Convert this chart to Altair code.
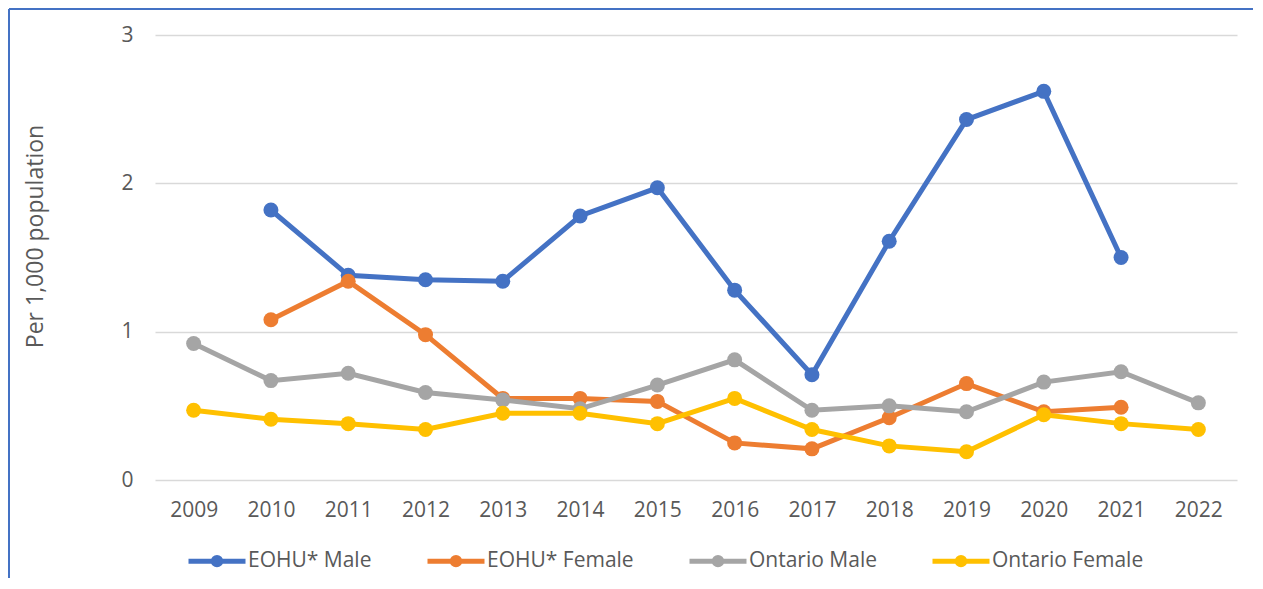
import altair as alt
import pandas as pd

years = [str(y) for y in range(2009, 2023)]
series_names = ["EOHU* Male", "EOHU* Female", "Ontario Male", "Ontario Female"]
colors = ["#4472C4", "#ED7D31", "#A5A5A5", "#FFC000"]

eohu_male = [None, 1.82, 1.38, 1.35, 1.34, 1.78, 1.97, 1.28, 0.71, 1.61, 2.43, 2.62, 1.50, None]
eohu_female = [None, 1.08, 1.34, 0.98, 0.55, 0.55, 0.53, 0.25, 0.21, 0.42, 0.65, 0.46, 0.49, None]
ontario_male = [0.92, 0.67, 0.72, 0.59, 0.54, 0.48, 0.64, 0.81, 0.47, 0.50, 0.46, 0.66, 0.73, 0.52]
ontario_female = [0.47, 0.41, 0.38, 0.34, 0.45, 0.45, 0.38, 0.55, 0.34, 0.23, 0.19, 0.44, 0.38, 0.34]

values = [eohu_male, eohu_female, ontario_male, ontario_female]
rows = []
for name, vals in zip(series_names, values):
    for yr, v in zip(years, vals):
        if v is not None:
            rows.append({"Year": yr, "Series": name, "Value": v})
df = pd.DataFrame(rows)

FONT = "Open Sans"
TXT = "#595959"

# line with a round blob in the middle (stroked path)
legend_path = ("M-1,0L1,0 "
               "M0.13,0A0.13,0.13,0,1,1,-0.13,0A0.13,0.13,0,1,1,0.13,0")

x_enc = alt.X("Year:O", scale=alt.Scale(domain=years, type="point", padding=0.5),
              axis=alt.Axis(title=None, labelAngle=0, labelFontSize=21, labelColor=TXT,
                            labelFont=FONT, ticks=False, domain=False, labelPadding=19))
y_enc = alt.Y("Value:Q", scale=alt.Scale(domain=[0, 3], nice=False),
              axis=alt.Axis(title="Per 1,000 population", values=[0, 1, 2, 3],
                            labelFontSize=21, labelColor=TXT, labelFont=FONT,
                            ticks=False, domain=False, labelPadding=22,
                            gridColor="#D9D9D9", gridWidth=1.5,
                            titleFontSize=23, titleFont=FONT, titleColor=TXT,
                            titleFontWeight="normal", titleX=-113, titleY=201,
                            titleAngle=270, titleAlign="center",
                            titleBaseline="alphabetic"))

legend = alt.Legend(title=None, orient="none", direction="horizontal",
                    legendX=31, legendY=495,
                    symbolType=legend_path, symbolSize=3249,
                    symbolStrokeWidth=5, symbolOpacity=1,
                    labelFontSize=21, labelFont=FONT, labelColor=TXT,
                    labelOffset=0, columnPadding=45)

layers = []
for i, name in enumerate(series_names):
    base = alt.Chart(df).transform_filter(alt.datum.Series == name)
    line = base.mark_line(strokeWidth=5).encode(
        x=x_enc, y=y_enc,
        stroke=alt.Stroke("Series:N", scale=alt.Scale(domain=series_names, range=colors),
                          legend=legend),
    )
    pts = base.mark_point(filled=True, size=225, opacity=1, shape="circle").encode(
        x=x_enc, y=y_enc,
        fill=alt.Fill("Series:N", scale=alt.Scale(domain=series_names, range=colors),
                      legend=None),
    )
    layers += [line, pts]

frame_left = alt.Chart(df).mark_rule(color="#4472C4", strokeWidth=2).encode(
    x=alt.value(-146), y=alt.value(-26), y2=alt.value(600))
frame_top = alt.Chart(df).mark_rule(color="#4472C4", strokeWidth=2).encode(
    x=alt.value(-146), x2=alt.value(1102), y=alt.value(-26))

chart = alt.layer(frame_left, frame_top, *layers).properties(
    width=1082, height=445,
    autosize=alt.AutoSizeParams(type="none"),
    padding={"left": 147, "top": 27, "right": 16, "bottom": 98},
).configure(font=FONT).configure_view(stroke=None)

chart.save("out.html", embed_options={"renderer": "svg", "actions": False})
